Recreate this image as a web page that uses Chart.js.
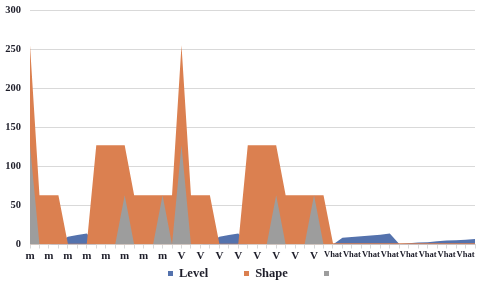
<!DOCTYPE html>
<html>
<head>
<meta charset="utf-8">
<script src="https://cdn.jsdelivr.net/npm/chart.js@4/dist/chart.umd.min.js"></script>
<style>
  html, body { margin: 0; padding: 0; background: #fff; }
  #wrap { position: relative; width: 480px; height: 284px; }
  #legend {
    position: absolute; left: 168px; top: 264px; height: 18px;
    display: flex; align-items: center;
    font: bold 12.5px 'Liberation Serif', 'Times New Roman', serif; color: #1e1e2a;
  }
  #legend .item { display: flex; align-items: center; margin-right: 36px; }
  #legend .box { width: 5px; height: 5px; margin-right: 6px; }
</style>
</head>
<body>
<div id="wrap"><canvas id="chart"></canvas><div id="legend"></div></div>
<script>
"use strict";

const CATEGORIES = [
  "m", "m", "m", "m", "m", "m", "m", "m", "m", "m", "m", "m", "m", "m", "m", "m",
  "V", "V", "V", "V", "V", "V", "V", "V", "V", "V", "V", "V", "V", "V", "V", "V",
  "Vhat", "Vhat", "Vhat", "Vhat", "Vhat", "Vhat", "Vhat", "Vhat",
  "Vhat", "Vhat", "Vhat", "Vhat", "Vhat", "Vhat", "Vhat", "Vhat",
];

const LEVEL = [
  0, 0, 0, 2, 10, 12, 14, 0, 0, 0, 0, 0, 0, 0, 0, 0,
  0, 0, 0, 2, 10, 12, 14, 0, 0, 0, 0, 0, 0, 0, 0, 0,
  0, 8.5, 9.5, 10.5, 11.5, 12.5, 14, 0.5, 1.5, 2.5, 3, 4, 5, 5.5, 6, 7,
];

const SHAPE = [
  255, 63, 63, 63, 1, 1, 1, 127, 127, 127, 127, 63, 63, 63, 63, 63,
  255, 63, 63, 63, 1, 1, 1, 127, 127, 127, 127, 63, 63, 63, 63, 63,
  1.5, 1.5, 1.5, 1.5, 1.5, 1.5, 1.5, 1.5, 1.5, 1.5, 1.5, 1.5, 1.5, 1.5, 1.5, 1.5,
];

const THIRD = [
  127, 0, 0, 0, 0, 0, 0, 0, 0, 0, 63, 0, 0, 0, 63, 0,
  127, 0, 0, 0, 0, 0, 0, 0, 0, 0, 63, 0, 0, 0, 63, 0,
  0, 0, 0, 0, 0, 0, 0, 0, 0, 0, 0, 0, 0, 0, 0, 0,
];

const Y_TICKS = [0, 50, 100, 150, 200, 250, 300];

const SERIF = "'Liberation Serif', 'Times New Roman', serif";
const TEXT = "#1e1e2a";
const GRID = "#d9d9d9";

// Excel draws series in sequence, so the last one sits on top: higher
// `order` here means drawn earlier (further back).
const area = (label, data, colour, order) => ({
  label,
  data,
  order,
  fill: "origin",
  backgroundColor: colour,
  borderColor: colour,
  borderWidth: 0,
  pointRadius: 0,
  tension: 0,
});

const datasets = [
  area("Level", LEVEL, "#5472ad", 3),
  area("Shape", SHAPE, "#db8050", 2),
  area("", THIRD, "#9d9d9d", 1),
];

new Chart(document.getElementById("chart"), {
  type: "line",
  data: { labels: CATEGORIES, datasets },
  options: {
    responsive: true,
    maintainAspectRatio: false,
    animation: false,
    layout: { padding: { top: 10, right: 5, left: 0, bottom: 19.5 } },
    scales: {
      x: {
        offset: false,
        grid: { drawOnChartArea: false, drawTicks: true, tickLength: 4, color: GRID },
        border: { color: GRID },
        ticks: {
          autoSkip: false,
          maxRotation: 0,
          padding: 1,
          color: TEXT,
          callback: (value, i) => (i % 2 === 0 ? CATEGORIES[i] : ""),
          font: (ctx) => ({
            family: SERIF,
            weight: "bold",
            size: CATEGORIES[ctx.index] === "Vhat" ? 8.5 : 11,
          }),
        },
        afterFit: (scale) => { scale.height = 20; },
      },
      y: {
        min: 0,
        max: 300,
        grid: { color: GRID, drawTicks: false },
        border: { display: false },
        afterBuildTicks: (scale) => { scale.ticks = Y_TICKS.map((v) => ({ value: v })); },
        ticks: {
          padding: 9,
          color: TEXT,
          font: { family: SERIF, weight: "bold", size: 10.5 },
        },
        // tick padding would otherwise push the plot down from the top
        afterFit: (scale) => {
          scale.width = 30;
          scale.paddingTop = 0;
          scale.paddingBottom = 0;
        },
      },
    },
    plugins: {
      tooltip: { enabled: false },
      legend: { display: false },
    },
  },
});

// ---- Legend ----------------------------------------------------------------

const legend = document.getElementById("legend");
for (const ds of datasets) {
  const item = document.createElement("span");
  item.className = "item";
  item.innerHTML = `<span class="box" style="background:${ds.backgroundColor}"></span>`;
  item.appendChild(document.createTextNode(ds.label));
  legend.appendChild(item);
}
</script>
</body>
</html>
